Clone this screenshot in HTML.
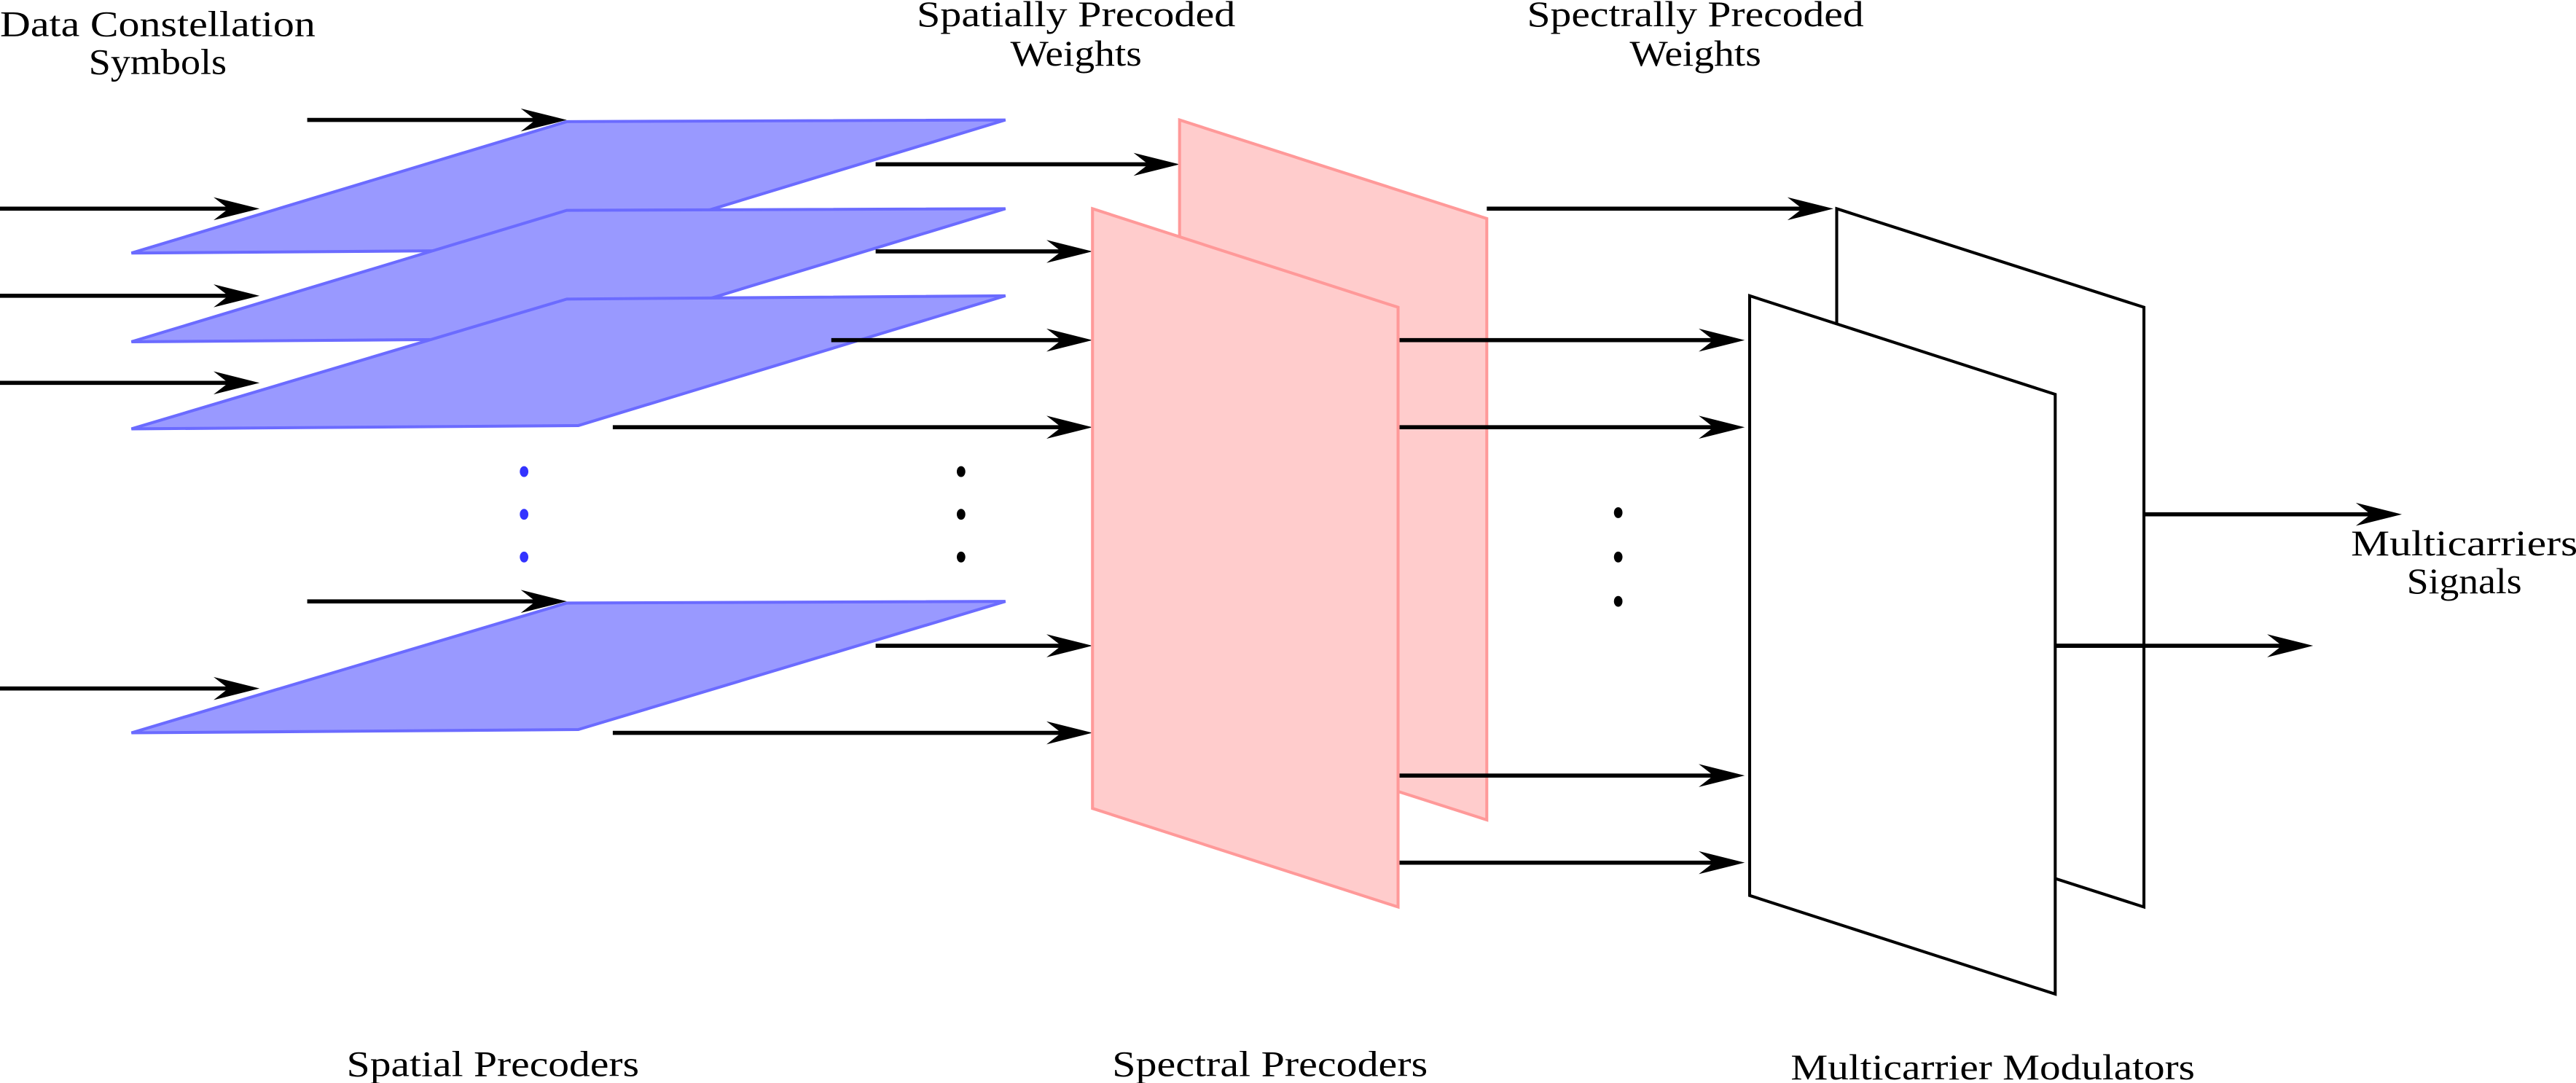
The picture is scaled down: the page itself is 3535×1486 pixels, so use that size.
<!DOCTYPE html>
<html><head><meta charset="utf-8"><style>
html,body{margin:0;padding:0;background:#fff;}
svg{display:block;}
</style></head><body>
<svg width="3535" height="1486" viewBox="0 0 1568 659.1" xmlns="http://www.w3.org/2000/svg">
<defs>
<g id="ah"><path d="M0,0 L-28,-7 L-19,0 L-28,7 Z" fill="#000"/></g>
</defs>
<g stroke="#000" stroke-width="2.5" fill="none">
<line x1="0" y1="127" x2="150" y2="127"/>
<line x1="0" y1="180" x2="150" y2="180"/>
<line x1="0" y1="233" x2="150" y2="233"/>
<line x1="0" y1="419" x2="150" y2="419"/>
<line x1="187" y1="73" x2="337" y2="73"/>
<line x1="187" y1="366" x2="337" y2="366"/>
</g>
<use href="#ah" x="158" y="127"/><use href="#ah" x="158" y="180"/><use href="#ah" x="158" y="233"/><use href="#ah" x="158" y="419"/>
<use href="#ah" x="345" y="73"/><use href="#ah" x="345" y="366"/>

<g fill="#9999ff" stroke="#6b6bff" stroke-width="1.8" stroke-linejoin="miter">
<polygon points="80,154 345,74 612,73 352,152"/>
<polygon points="80,208 345,128 612,127 352,206"/>
<polygon points="80,261 345,182 612,180 352,259"/>
<polygon points="80,446 345,367 612,366 352,444"/>
</g>
<g fill="#3333ff"><ellipse cx="319" cy="287" rx="2.6" ry="3.3"/><ellipse cx="319" cy="313" rx="2.6" ry="3.3"/><ellipse cx="319" cy="339" rx="2.6" ry="3.3"/></g>
<g fill="#000"><ellipse cx="585" cy="287" rx="2.6" ry="3.3"/><ellipse cx="585" cy="313" rx="2.6" ry="3.3"/><ellipse cx="585" cy="339" rx="2.6" ry="3.3"/></g>

<g stroke="#000" stroke-width="2.5">
<line x1="533" y1="100" x2="710" y2="100"/>
<line x1="533" y1="153" x2="657" y2="153"/>
<line x1="506" y1="207" x2="657" y2="207"/>
<line x1="373" y1="260" x2="657" y2="260"/>
<line x1="533" y1="393" x2="657" y2="393"/>
<line x1="373" y1="446" x2="657" y2="446"/>
</g>
<use href="#ah" x="718" y="100"/><use href="#ah" x="665" y="153"/><use href="#ah" x="665" y="207"/><use href="#ah" x="665" y="260"/><use href="#ah" x="665" y="393"/><use href="#ah" x="665" y="446"/>

<g fill="#ffcccc" stroke="#ff9999" stroke-width="1.8">
<polygon points="718,73 905,133 905,499 718,439"/>
</g>
<g stroke="#000" stroke-width="2.5">
<line x1="851" y1="207" x2="1054" y2="207"/>
<line x1="851" y1="260" x2="1054" y2="260"/>
<line x1="851" y1="472" x2="1054" y2="472"/>
<line x1="851" y1="525" x2="1054" y2="525"/>
</g>
<g fill="#ffcccc" stroke="#ff9999" stroke-width="1.8">
<polygon points="665,127 851,187 851,552 665,492"/>
</g>
<line x1="905" y1="127" x2="1108" y2="127" stroke="#000" stroke-width="2.5"/>
<use href="#ah" x="1116" y="127"/>
<use href="#ah" x="1062" y="207"/><use href="#ah" x="1062" y="260"/><use href="#ah" x="1062" y="472"/><use href="#ah" x="1062" y="525"/>
<g fill="#000"><ellipse cx="985" cy="312" rx="2.6" ry="3.3"/><ellipse cx="985" cy="339" rx="2.6" ry="3.3"/><ellipse cx="985" cy="366" rx="2.6" ry="3.3"/></g>

<g fill="#fff" stroke="#000" stroke-width="1.8">
<polygon points="1118,127 1305,187 1305,552 1118,492"/>
</g>
<g stroke="#000" stroke-width="2.5">
<line x1="1305" y1="313" x2="1454" y2="313"/>
<line x1="1251" y1="393" x2="1400" y2="393"/>
</g>
<g fill="#fff" stroke="#000" stroke-width="1.8">
<polygon points="1065,180 1251,240 1251,605 1065,545"/>
</g>
<line x1="1251" y1="393" x2="1305" y2="393" stroke="#000" stroke-width="2.5"/>
<use href="#ah" x="1462" y="313"/><use href="#ah" x="1408" y="393"/>

<g font-family="Liberation Serif, DejaVu Serif, serif" font-size="22" fill="#000" text-anchor="middle">
<text x="96" y="22" textLength="192" lengthAdjust="spacingAndGlyphs">Data Constellation</text>
<text x="96" y="45" textLength="84" lengthAdjust="spacingAndGlyphs">Symbols</text>
<text x="655" y="16" textLength="194" lengthAdjust="spacingAndGlyphs">Spatially Precoded</text>
<text x="655" y="40" textLength="80" lengthAdjust="spacingAndGlyphs">Weights</text>
<text x="1032" y="16" textLength="205" lengthAdjust="spacingAndGlyphs">Spectrally Precoded</text>
<text x="1032" y="40" textLength="80" lengthAdjust="spacingAndGlyphs">Weights</text>
<text x="1500" y="338" textLength="138" lengthAdjust="spacingAndGlyphs">Multicarriers</text>
<text x="1500" y="361" textLength="70" lengthAdjust="spacingAndGlyphs">Signals</text>
<text x="300" y="655" textLength="178" lengthAdjust="spacingAndGlyphs">Spatial Precoders</text>
<text x="773" y="655" textLength="192" lengthAdjust="spacingAndGlyphs">Spectral Precoders</text>
<text x="1213" y="657" textLength="246" lengthAdjust="spacingAndGlyphs">Multicarrier Modulators</text>
</g>
</svg>
</body></html>
